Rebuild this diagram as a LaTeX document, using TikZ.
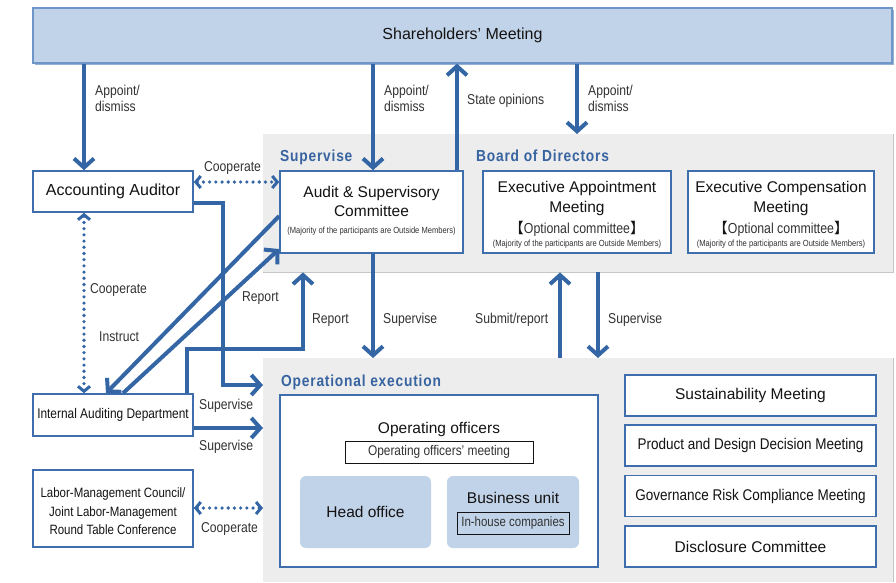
\documentclass[tikz,border=0pt]{standalone}
\usepackage{fontspec}
\setmainfont{Liberation Sans}
\newfontfamily\condfont[FakeStretch=0.85]{Liberation Sans}
\newfontfamily\narrowfont[FakeStretch=0.87]{Liberation Sans}
\newfontfamily\headfont[FakeStretch=0.86,LetterSpace=5]{Liberation Sans}
\newfontfamily\cjkfont{Noto Sans CJK JP}
\usetikzlibrary{arrows.meta,shadows}

\definecolor{lineblue}{RGB}{52,102,165}
\definecolor{boxblue}{RGB}{62,110,172}
\definecolor{lightblue}{RGB}{193,211,232}
\definecolor{topborder}{RGB}{110,150,200}
\definecolor{shadowblue}{RGB}{150,175,210}
\definecolor{panelgray}{RGB}{237,237,237}
\definecolor{panelline}{RGB}{198,198,198}
\definecolor{headblue}{RGB}{55,100,160}
\definecolor{inktext}{RGB}{20,18,18}
\definecolor{labeltext}{RGB}{50,50,50}

\begin{document}
\begin{tikzpicture}[x=1pt,y=-1pt,
  box/.style={draw=boxblue, line width=1.6pt, fill=white, inner sep=0pt, align=center, text=inktext},
  panel/.style={fill=panelgray, inner sep=0pt, anchor=north west},
  unitbox/.style={fill=lightblue, rounded corners=6pt, inner sep=0pt, align=center, text=inktext},
  subbox/.style={draw=inktext, line width=0.9pt, inner sep=0pt, text=labeltext,
    font=\condfont\fontsize{14}{16}\selectfont},
  conn/.style={draw=lineblue, line width=4pt, -{Straight Barb[length=9pt,width=20pt]}},
  dots/.style={draw=lineblue, line width=3.6pt, line cap=round, dash pattern=on 0pt off 6.2pt,
    {Straight Barb[length=5pt,width=12pt,line width=3pt]}-{Straight Barb[length=5pt,width=12pt,line width=3pt]}},
  lbl/.style={font=\condfont\fontsize{14.3}{16}\selectfont, text=labeltext, inner sep=0pt, anchor=base west},
  head/.style={font=\headfont\bfseries\fontsize{16}{18}\selectfont, text=headblue, inner sep=0pt, anchor=base west},
  ttl/.style={font=\fontsize{15.5}{18}\selectfont, text=inktext, inner sep=0pt, anchor=base},
  tiny/.style={font=\condfont\fontsize{8.9}{10}\selectfont, text=labeltext, inner sep=0pt, anchor=base},
  opt/.style={font=\fontsize{14.5}{16}\selectfont, text=inktext, inner sep=0pt, anchor=base},
  sidebox/.style={box, minimum width=251pt, minimum height=41pt, font=\fontsize{15.5}{18}\selectfont}
]
\useasboundingbox (0,0) rectangle (896,582);

% background panels
\node[panel, minimum width=630pt, minimum height=138pt] (bod) at (263,134) {};
\draw[panelline, line width=0.8pt] (bod.north east) -- (bod.south east) -- (bod.south west);
\node[panel, minimum width=630pt, minimum height=224pt] (opx) at (263,358) {};
\draw[panelline, line width=0.8pt] (opx.north east) -- (opx.south east);

% shareholders
\node[draw=topborder, line width=1.2pt, fill=lightblue, minimum width=859pt, minimum height=55pt,
  inner sep=0pt, text=inktext, font=\fontsize{16}{19}\selectfont,
  drop shadow={shadow xshift=1.5pt, shadow yshift=-1.8pt, fill=shadowblue, opacity=1}]
  (sh) at (462.5,35.5) {Shareholders’ Meeting};

% left column
\node[box, minimum width=160pt, minimum height=41pt, font=\fontsize{16}{19}\selectfont] (aa) at (113,191.5) {Accounting Auditor};
\node[box, minimum width=160pt, minimum height=42pt, font=\condfont\fontsize{14}{16}\selectfont] (iad) at (113,415) {Internal Auditing Department};
\node[box, minimum width=160pt, minimum height=77pt] (lab) at (113,508.5) {};
\node[lbl, anchor=base, text=inktext, font=\condfont\fontsize{13.5}{16}\selectfont] (lab1) at (113,497) {Labor-Management Council/};
\node[lbl, anchor=base, text=inktext, font=\condfont\fontsize{13.5}{16}\selectfont] (lab2) at (113,516) {Joint Labor-Management};
\node[lbl, anchor=base, text=inktext, font=\condfont\fontsize{13.5}{16}\selectfont] (lab3) at (113,534) {Round Table Conference};

% board of directors
\node[head] (hsup) at (280,161) {Supervise};
\node[head] (hbod) at (476,161) {Board of Directors};
\node[box, minimum width=183pt, minimum height=82pt] (asc) at (371.5,212) {};
\node[ttl] (asc1) at (371.5,197.5) {Audit \& Supervisory};
\node[ttl] (asc2) at (371.5,216.5) {Committee};
\node[tiny] (asc3) at (371.5,233.3) {(Majority of the participants are Outside Members)};

\node[box, minimum width=188pt, minimum height=82pt] (eam) at (577,212) {};
\node[ttl] (eam1) at (577,192.6) {Executive Appointment};
\node[ttl] (eam2) at (577,212.6) {Meeting};
\node[opt] (eam3) at (577,233.2) {{\cjkfont 【}\textcolor{labeltext}{\condfont Optional committee}{\cjkfont 】}};
\node[tiny] (eam4) at (577,246.3) {(Majority of the participants are Outside Members)};

\node[box, minimum width=186pt, minimum height=82pt] (ecm) at (781,212) {};
\node[ttl] (ecm1) at (781,192.6) {Executive Compensation};
\node[ttl] (ecm2) at (781,212.6) {Meeting};
\node[opt] (ecm3) at (781,233.2) {{\cjkfont 【}\textcolor{labeltext}{\condfont Optional committee}{\cjkfont 】}};
\node[tiny] (ecm4) at (781,246.3) {(Majority of the participants are Outside Members)};

% operational execution
\node[head] (hop) at (281,386) {Operational execution};
\node[box, minimum width=318pt, minimum height=172pt] (ops) at (439,481) {};
\node[ttl] (oo) at (439,433.6) {Operating officers};
\node[subbox, fill=white, minimum width=188pt, minimum height=22pt] (oom) at (439,452) {Operating officers’ meeting};
\node[unitbox, minimum width=131pt, minimum height=72pt, font=\fontsize{15.5}{18}\selectfont] (ho) at (365.5,512) {Head office};
\node[unitbox, minimum width=132pt, minimum height=72pt] (bu) at (513,512) {};
\node[ttl] (bu1) at (513,503.6) {Business unit};
\node[subbox, font=\condfont\fontsize{13.5}{16}\selectfont, minimum width=112pt, minimum height=22pt] (ihc) at (513,523) {In-house companies};

% meetings on the right
\node[sidebox] (sus) at (750.5,395.5) {Sustainability Meeting};
\node[sidebox, font=\narrowfont\fontsize{15.5}{18}\selectfont] (pdd) at (750.5,445.5) {Product and Design Decision Meeting};
\node[sidebox, font=\narrowfont\fontsize{15.5}{18}\selectfont] (grc) at (750.5,496) {Governance Risk Compliance Meeting};
\node[sidebox] (dis) at (750.5,546.5) {Disclosure Committee};

% connector guide positions
\coordinate (cL) at (84,0);
\coordinate (cM) at (373,0);
\coordinate (cS) at (457,0);
\coordinate (cR) at (577,0);
\coordinate (cSub) at (560,0);
\coordinate (cSup) at (598,0);
\coordinate (cIR) at (187,0);
\coordinate (cAV) at (223,0);
\coordinate (cRep) at (303,0);
\coordinate (cIn) at (106,0);
\coordinate (cRd) at (123,0);
\coordinate (yCo) at (0,182);
\coordinate (yAA) at (0,203);
\coordinate (yOp) at (0,385);
\coordinate (yIA) at (0,428);
\coordinate (yLab) at (0,508);
\coordinate (yIn) at (0,216);
\coordinate (yRd) at (0,249);
\coordinate (yRp) at (0,349);

% connectors
\draw[conn] (sh.south -| cL) -- (aa.north -| cL);
\draw[conn] (sh.south -| cM) -- (asc.north -| cM);
\draw[conn] (asc.north -| cS) -- (sh.south -| cS);
\draw[conn] (sh.south -| cR) -- (bod.north -| cR);
\draw[dots] (aa.east |- yCo) -- (asc.west |- yCo);
\draw[dots] (aa.south -| cL) -- (iad.north -| cL);
\draw[conn] (asc.west |- yIn) -- (iad.north -| cIn);
\draw[conn] (iad.north -| cRd) -- (asc.west |- yRd);
\draw[conn] (aa.east |- yAA) -| (cAV |- yOp) -- (opx.west |- yOp);
\draw[conn] (iad.north -| cIR) |- (cRep |- yRp) -- (bod.south -| cRep);
\draw[conn] (iad.east |- yIA) -- (opx.west |- yIA);
\draw[conn] (asc.south -| cM) -- (opx.north -| cM);
\draw[conn] (opx.north -| cSub) -- (bod.south -| cSub);
\draw[conn] (bod.south -| cSup) -- (opx.north -| cSup);
\draw[dots] (lab.east |- yLab) -- (opx.west |- yLab);

% connector labels
\node[lbl] (l1a) at (95,95) {Appoint/};
\node[lbl] (l1b) at (95,111) {dismiss};
\node[lbl] (l2a) at (384,95) {Appoint/};
\node[lbl] (l2b) at (384,111) {dismiss};
\node[lbl] (l3) at (467,104) {State opinions};
\node[lbl] (l4a) at (588,95) {Appoint/};
\node[lbl] (l4b) at (588,111) {dismiss};
\node[lbl] (l5) at (204,171) {Cooperate};
\node[lbl] (l6) at (90,293) {Cooperate};
\node[lbl] (l7) at (99,341) {Instruct};
\node[lbl] (l8) at (242,301) {Report};
\node[lbl] (l9) at (312,323) {Report};
\node[lbl] (l10) at (383,323) {Supervise};
\node[lbl] (l11) at (475,323) {Submit/report};
\node[lbl] (l12) at (608,323) {Supervise};
\node[lbl] (l13) at (199,409) {Supervise};
\node[lbl] (l14) at (199,450) {Supervise};
\node[lbl] (l15) at (201,532) {Cooperate};
\end{tikzpicture}
\end{document}
